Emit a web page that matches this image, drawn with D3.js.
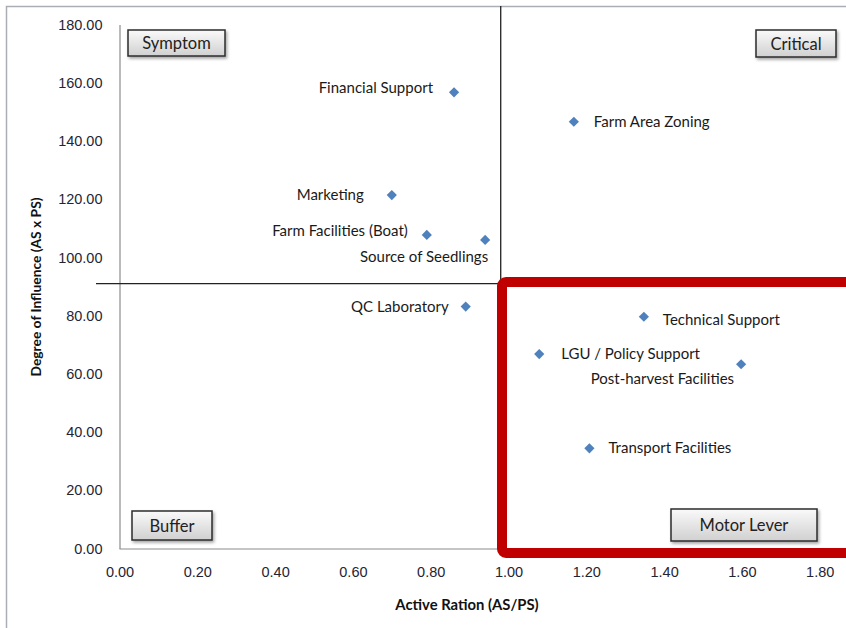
<!DOCTYPE html>
<html>
<head>
<meta charset="utf-8">
<script src="https://cdn.jsdelivr.net/npm/d3@7.9.0/dist/d3.min.js"></script>
<style>
  body { margin: 0; background: #fff; }
  svg { display: block; font-family: Lato, "Noto Sans", sans-serif; }
</style>
</head>
<body>
<svg id="chart" width="846" height="628"></svg>
<script>
// factors
const names = ['Financial Support', 'Farm Area Zoning', 'Marketing', 'Farm Facilities (Boat)',
  'Source of Seedlings', 'QC Laboratory', 'Technical Support', 'LGU / Policy Support',
  'Post-harvest Facilities', 'Transport Facilities'];
const activeRatio = [0.86, 1.168, 0.70, 0.79, 0.94, 0.89, 1.348, 1.079, 1.598, 1.208];
const influence = [156.7, 146.6, 121.4, 107.7, 106.0, 83.1, 79.6, 66.8, 63.3, 34.4];
// label placement relative to the marker: [dx, dy, anchor]
const labelPos = [[-21, -4, 'end'], [20, 0, 'start'], [-28, 0, 'end'], [-19, -4, 'end'],
  [3, 17, 'end'], [-17, 0, 'end'], [19, 3, 'start'], [22, 0, 'start'],
  [-7, 15, 'end'], [19, 0, 'start']];

const xTicks = [0, 0.2, 0.4, 0.6, 0.8, 1.0, 1.2, 1.4, 1.6, 1.8];
const yTicks = [0, 20, 40, 60, 80, 100, 120, 140, 160, 180];

// quadrant dividers (drawn by hand in the original)
const splitX = 0.98;
const splitY = 91;

const quadrants = ['Symptom', 'Critical', 'Buffer', 'Motor Lever'];

const svg = d3.select('#chart');

const x = d3.scaleLinear().domain([0, 2]).range([119.5, 897.5]);
const y = d3.scaleLinear().domain([0, 180]).range([548.5, 24.5]);

// gradient + shadow for the quadrant tags
const defs = svg.append('defs');
const grad = defs.append('linearGradient').attr('id', 'tagGrad')
  .attr('x1', 0).attr('y1', 0).attr('x2', 0).attr('y2', 1);
grad.append('stop').attr('offset', '0%').attr('stop-color', '#fafafa');
grad.append('stop').attr('offset', '100%').attr('stop-color', '#d0d0d0');
const shadow = defs.append('filter').attr('id', 'shadow')
  .attr('x', '-20%').attr('y', '-30%').attr('width', '150%').attr('height', '180%');
shadow.append('feDropShadow').attr('dx', 1.5).attr('dy', 2).attr('stdDeviation', 1.5)
  .attr('flood-color', '#000').attr('flood-opacity', 0.35);

// outer frame
svg.append('path')
  .attr('d', 'M6.5,628 V6.5 H846')
  .attr('fill', 'none').attr('stroke', '#a9aeb5').attr('stroke-width', 1.5);

// axes
const xAxis = svg.append('g')
  .attr('transform', `translate(0,${y(0)})`)
  .call(d3.axisBottom(x).tickValues(xTicks).tickFormat(d3.format('.2f')).tickSize(0).tickPadding(18));
const yAxis = svg.append('g')
  .attr('transform', `translate(${x(0)},0)`)
  .call(d3.axisLeft(y).tickValues(yTicks).tickFormat(d3.format('.2f')).tickSize(0).tickPadding(17));

[xAxis, yAxis].forEach(g => {
  g.select('.domain').attr('stroke', '#8c8c8c').attr('stroke-width', 1.2);
  g.selectAll('text').attr('font-size', 14.5).attr('fill', '#1f2535');
});
xAxis.select('.domain').attr('d', `M${x(0)},0.5H846`);

// quadrant dividers
svg.append('line')
  .attr('x1', 96).attr('x2', 846)
  .attr('y1', y(splitY)).attr('y2', y(splitY))
  .attr('stroke', '#222').attr('stroke-width', 1.2);
svg.append('line')
  .attr('x1', x(splitX)).attr('x2', x(splitX))
  .attr('y1', 6).attr('y2', y(splitY))
  .attr('stroke', '#222').attr('stroke-width', 1.3);

// red highlight around Motor Lever quadrant
svg.append('rect')
  .attr('x', 502).attr('y', 282)
  .attr('width', 400).attr('height', 271)
  .attr('rx', 4)
  .attr('fill', 'none').attr('stroke', '#c00000').attr('stroke-width', 10);

// axis titles
svg.append('text')
  .attr('x', 467).attr('y', 610)
  .attr('text-anchor', 'middle')
  .attr('font-size', 14.8).attr('font-weight', 'bold').attr('fill', '#111')
  .text('Active Ration (AS/PS)');
svg.append('text')
  .attr('transform', 'translate(41,287) rotate(-90)')
  .attr('text-anchor', 'middle')
  .attr('font-size', 12.5).attr('font-weight', 'bold').attr('fill', '#111')
  .attr('textLength', 179).attr('lengthAdjust', 'spacingAndGlyphs')
  .text('Degree of Influence  (AS x PS)');

// quadrant tags
const tagBoxes = [[128, 30, 97, 26], [756, 30, 80, 27], [132, 511, 80, 29], [671, 509, 146, 32]];
quadrants.forEach((q, i) => {
  const [bx, by, bw, bh] = tagBoxes[i];
  svg.append('rect')
    .attr('x', bx).attr('y', by).attr('width', bw).attr('height', bh)
    .attr('fill', 'url(#tagGrad)').attr('stroke', '#2b2b2b').attr('stroke-width', 1.5)
    .attr('filter', 'url(#shadow)');
  svg.append('text')
    .attr('x', bx + bw / 2).attr('y', by + bh / 2 + 6)
    .attr('text-anchor', 'middle')
    .attr('font-size', 16.5).attr('fill', '#222')
    .text(q);
});

// markers + labels
const pts = names.map((n, i) => ({ name: n, ar: activeRatio[i], inf: influence[i], pos: labelPos[i] }));
const diamond = d3.symbol().type(d3.symbolSquare).size(52);

svg.append('g').selectAll('path')
  .data(pts)
  .join('path')
  .attr('d', diamond)
  .attr('transform', d => `translate(${x(d.ar)},${y(d.inf)}) rotate(45)`)
  .attr('fill', '#4f81bd');

svg.append('g').selectAll('text')
  .data(pts)
  .join('text')
  .attr('x', d => x(d.ar) + d.pos[0])
  .attr('y', d => y(d.inf) + d.pos[1] + 5)
  .attr('text-anchor', d => d.pos[2])
  .attr('font-size', 15).attr('fill', '#1a1a1a')
  .text(d => d.name);
</script>
</body>
</html>
